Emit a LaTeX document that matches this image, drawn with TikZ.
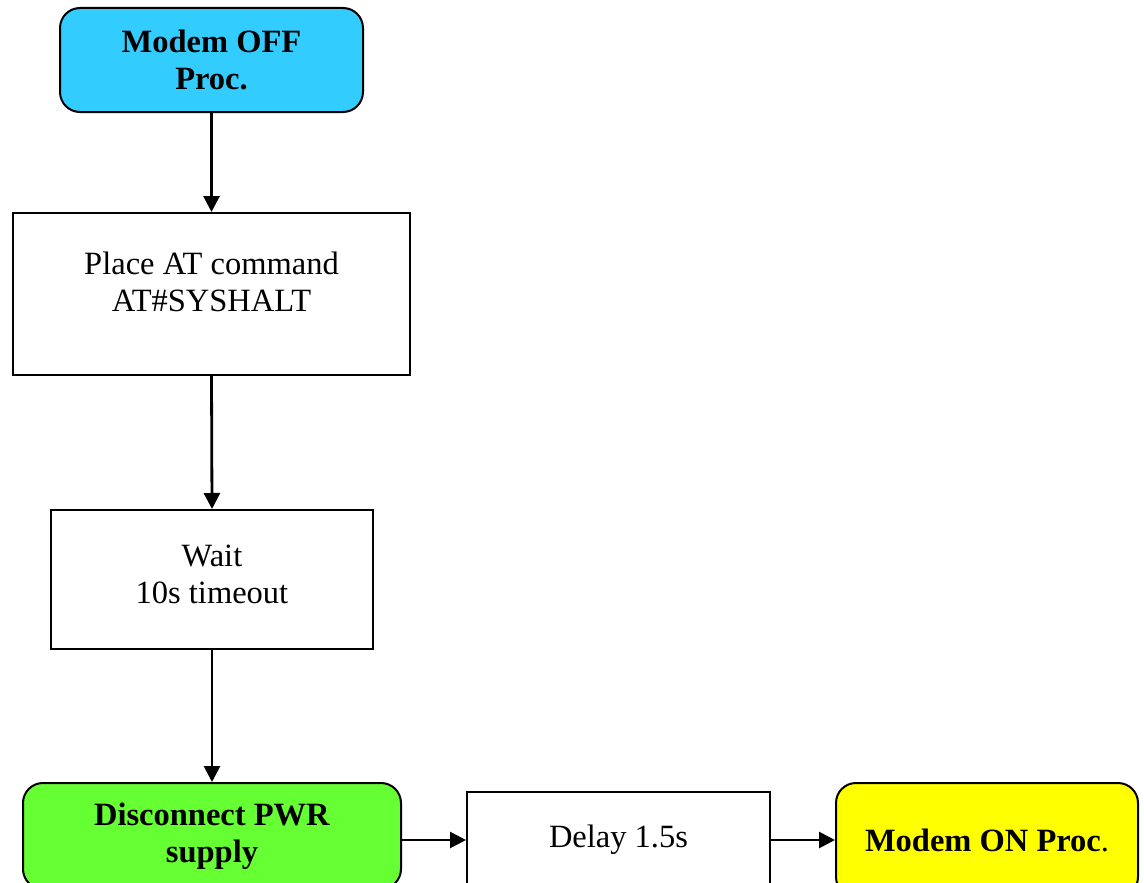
\documentclass[tikz,border=0pt]{standalone}
\usepackage{fontspec}
\setmainfont{Liberation Serif}
\usetikzlibrary{arrows.meta}
\definecolor{offcol}{HTML}{33CCFF}
\definecolor{pwrcol}{HTML}{66FF33}
\definecolor{oncol}{HTML}{FFFF00}
\begin{document}
\begin{tikzpicture}[x=1pt,y=-1pt,
  every node/.style={font=\fontsize{32.5}{37.5}\selectfont, align=center},
  rbox/.style={draw=black, line width=2pt, rounded corners=20pt, inner sep=0pt},
  sbox/.style={draw=black, line width=2pt, inner sep=0pt, fill=white},
  txt/.style={inner sep=0pt},
  conn/.style={line width=2.8pt, -{Triangle[length=16pt,width=16pt]}}]
\useasboundingbox (0,0) rectangle (1144,883);
\clip (0,0) rectangle (1144,883);
\fill[white] (0,0) rectangle (1144,883);
% boxes
\node[rbox, fill=offcol, minimum width=303pt, minimum height=104pt] (off) at (211.5,60) {\textbf{Modem OFF}\\\textbf{Proc.}};
\node[sbox, minimum width=397pt, minimum height=162pt,
  label={[txt,yshift=12pt]center:Place AT command\\AT\#SYSHALT}] (place) at (211.5,294) {};
\node[sbox, minimum width=322pt, minimum height=139pt,
  label={[txt,yshift=5pt]center:Wait\\10s timeout}] (wait) at (212,579.5) {};
\node[rbox, fill=pwrcol, minimum width=378pt, minimum height=106pt] (pwr) at (212,836) {\textbf{Disconnect PWR}\\\textbf{supply}};
\node[sbox, minimum width=303pt, minimum height=96pt] (delay) at (618.5,840) {Delay 1.5s};
\node[rbox, fill=oncol, minimum width=302pt, minimum height=114pt] (on) at (987,840) {\textbf{Modem ON Proc}.};
% connectors
\draw[conn] (off.south) -- (place.north);
\draw[conn] (place.south) -- (wait.north);
\draw[conn] (wait.south) -- (pwr.north);
\draw[conn] (pwr.east |- delay.center) -- (delay.west);
\draw[conn] (delay.east) -- (on.west |- delay.center);
\end{tikzpicture}
\end{document}
